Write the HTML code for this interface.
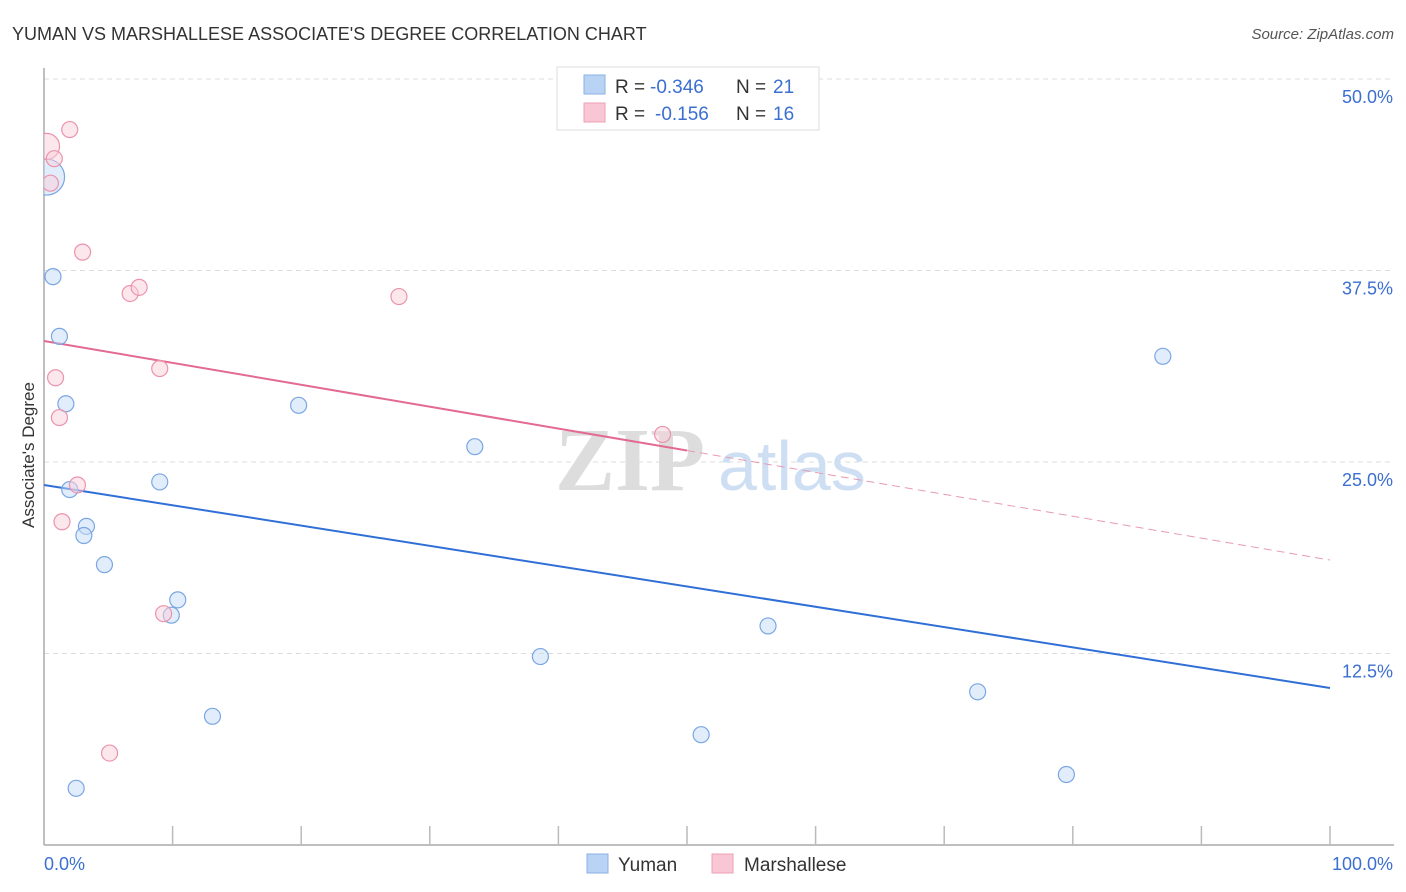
<!DOCTYPE html>
<html><head><meta charset="utf-8"><style>
body{margin:0;background:#fff;font-family:"Liberation Sans",sans-serif;}
svg{display:block}
</style></head><body>
<svg id="chart" width="1406" height="892">
<defs><clipPath id="plotclip"><rect x="44" y="60" width="1360" height="785"/></clipPath></defs>
<text x="12" y="40" font-size="18" fill="#333">YUMAN VS MARSHALLESE ASSOCIATE'S DEGREE CORRELATION CHART</text>
<text x="1394" y="39" font-size="15" fill="#555" font-style="italic" text-anchor="end">Source: ZipAtlas.com</text>
<g id="grid"></g>
<g><text x="555" y="490" font-size="90" font-family="Liberation Serif" fill="#ddd" font-weight="bold">ZIP</text><text x="718" y="490" font-size="70" fill="#cfdff3">atlas</text></g>
<g id="axes"></g>
<g id="trends"></g>
<g id="points" clip-path="url(#plotclip)"></g>
<text transform="translate(34,455) rotate(-90)" font-size="17" fill="#333" text-anchor="middle">Associate's Degree</text>
<g>
<rect x="557" y="67" width="262" height="63" fill="#fff" stroke="#ddd"/>
<rect x="584" y="75" width="21" height="19" fill="#b9d3f5" stroke="#8ab0e6"/>
<text x="615" y="93" font-size="19" fill="#333">R =</text>
<text x="650" y="93" font-size="19" fill="#3b6fd0">-0.346</text>
<text x="736" y="93" font-size="19" fill="#333">N =</text>
<text x="773" y="93" font-size="19" fill="#3b6fd0">21</text>
<rect x="584" y="103" width="21" height="19" fill="#f9c6d4" stroke="#eba0b6"/>
<text x="615" y="120" font-size="19" fill="#333">R =</text>
<text x="655" y="120" font-size="19" fill="#3b6fd0">-0.156</text>
<text x="736" y="120" font-size="19" fill="#333">N =</text>
<text x="773" y="120" font-size="19" fill="#3b6fd0">16</text>
</g>
<g>
<rect x="587" y="854" width="21" height="19" fill="#b9d3f5" stroke="#8ab0e6"/>
<text x="618" y="871" font-size="19" fill="#333">Yuman</text>
<rect x="712" y="854" width="21" height="19" fill="#f9c6d4" stroke="#eba0b6"/>
<text x="744" y="871" font-size="19" fill="#333">Marshallese</text>
</g>
</svg>
<script>
const yTicks=[12.5,25,37.5,50];
const yTickLabels=["12.5%","25.0%","37.5%","50.0%"];
const yumanX=[0.2,0.7,1.2,1.7,2.0,3.3,3.1,4.7,2.5,9.0,10.4,9.9,13.1,19.8,33.5,38.6,51.1,56.3,72.6,79.5,87.0];
const yumanY=[43.6,37.1,33.2,28.8,23.2,20.8,20.2,18.3,3.7,23.7,16.0,15.0,8.4,28.7,26.0,12.3,7.2,14.3,10.0,4.6,31.9];
const yumanR=[18,8,8,8,8,8,8,8,8,8,8,8,8,8,8,8,8,8,8,8,8];
const marX=[0.2,2.0,0.8,0.5,3.0,6.7,7.4,0.9,1.2,2.6,1.4,9.0,9.3,5.1,27.6,48.1];
const marY=[45.6,46.7,44.8,43.2,38.7,36.0,36.4,30.5,27.9,23.5,21.1,31.1,15.1,6.0,35.8,26.8];
const marR=[13,8,8,8,8,8,8,8,8,8,8,8,8,8,8,8];
const yumanTrend=[23.5,10.25];
const marTrend=[32.9,18.6];
const NS="http://www.w3.org/2000/svg";
const X=v=>44+v*12.86, Y=v=>845-v*15.32;
function mk(p,tag,a){const e=document.createElementNS(NS,tag);for(const k in a)e.setAttribute(k,a[k]);document.getElementById(p).appendChild(e);return e;}
yTicks.forEach((t,i)=>{
 const l=mk('grid','line',{x1:44,x2:1394,y1:Y(t),y2:Y(t),stroke:'#ddd','stroke-dasharray':'5,4'});
 
 
 const tx=mk('axes','text',{x:1393,y:Y(t)+24,'font-size':18,fill:'#3b6fd0','text-anchor':'end'});
 tx.textContent=yTickLabels[i];
 
 
});
mk('axes','line',{x1:44,x2:44,y1:68,y2:845,stroke:'#aaa','stroke-width':1.5});
mk('axes','line',{x1:44,x2:1394,y1:845,y2:845,stroke:'#aaa','stroke-width':1.5});
for(let i=1;i<=10;i++){const t=mk('axes','line',{x1:X(i*10),x2:X(i*10),y1:826,y2:845,stroke:'#bbb','stroke-width':1.5});
 
 }
let a=mk('axes','text',{x:44,y:870,'font-size':18,fill:'#3b6fd0'});a.textContent="0.0%";

a=mk('axes','text',{x:1393,y:870,'font-size':18,fill:'#3b6fd0','text-anchor':'end'});a.textContent="100.0%";

let tl=mk('trends','line',{x1:X(0),y1:Y(yumanTrend[0]),x2:X(100),y2:Y(yumanTrend[1]),stroke:'#2f6fd6','stroke-width':2});

const pm=marTrend[0]+(marTrend[1]-marTrend[0])*0.5;
tl=mk('trends','line',{x1:X(0),y1:Y(marTrend[0]),x2:X(50),y2:Y(pm),stroke:'#e36a90','stroke-width':2});

tl=mk('trends','line',{x1:X(50),y1:Y(pm),x2:X(100),y2:Y(marTrend[1]),stroke:'#e89ab2','stroke-width':1,'stroke-dasharray':'8,5'});

yumanX.forEach((x,i)=>{const c=mk('points','circle',{cx:X(x),cy:Y(yumanY[i]),r:yumanR[i],fill:'#c5dbf7','fill-opacity':0.5,stroke:'#7aa6e3','stroke-width':1.2});
 
 });
marX.forEach((x,i)=>{const c=mk('points','circle',{cx:X(x),cy:Y(marY[i]),r:marR[i],fill:'#fad0dc','fill-opacity':0.5,stroke:'#eb93ad','stroke-width':1.2});
 
 });
</script>
</body></html>
